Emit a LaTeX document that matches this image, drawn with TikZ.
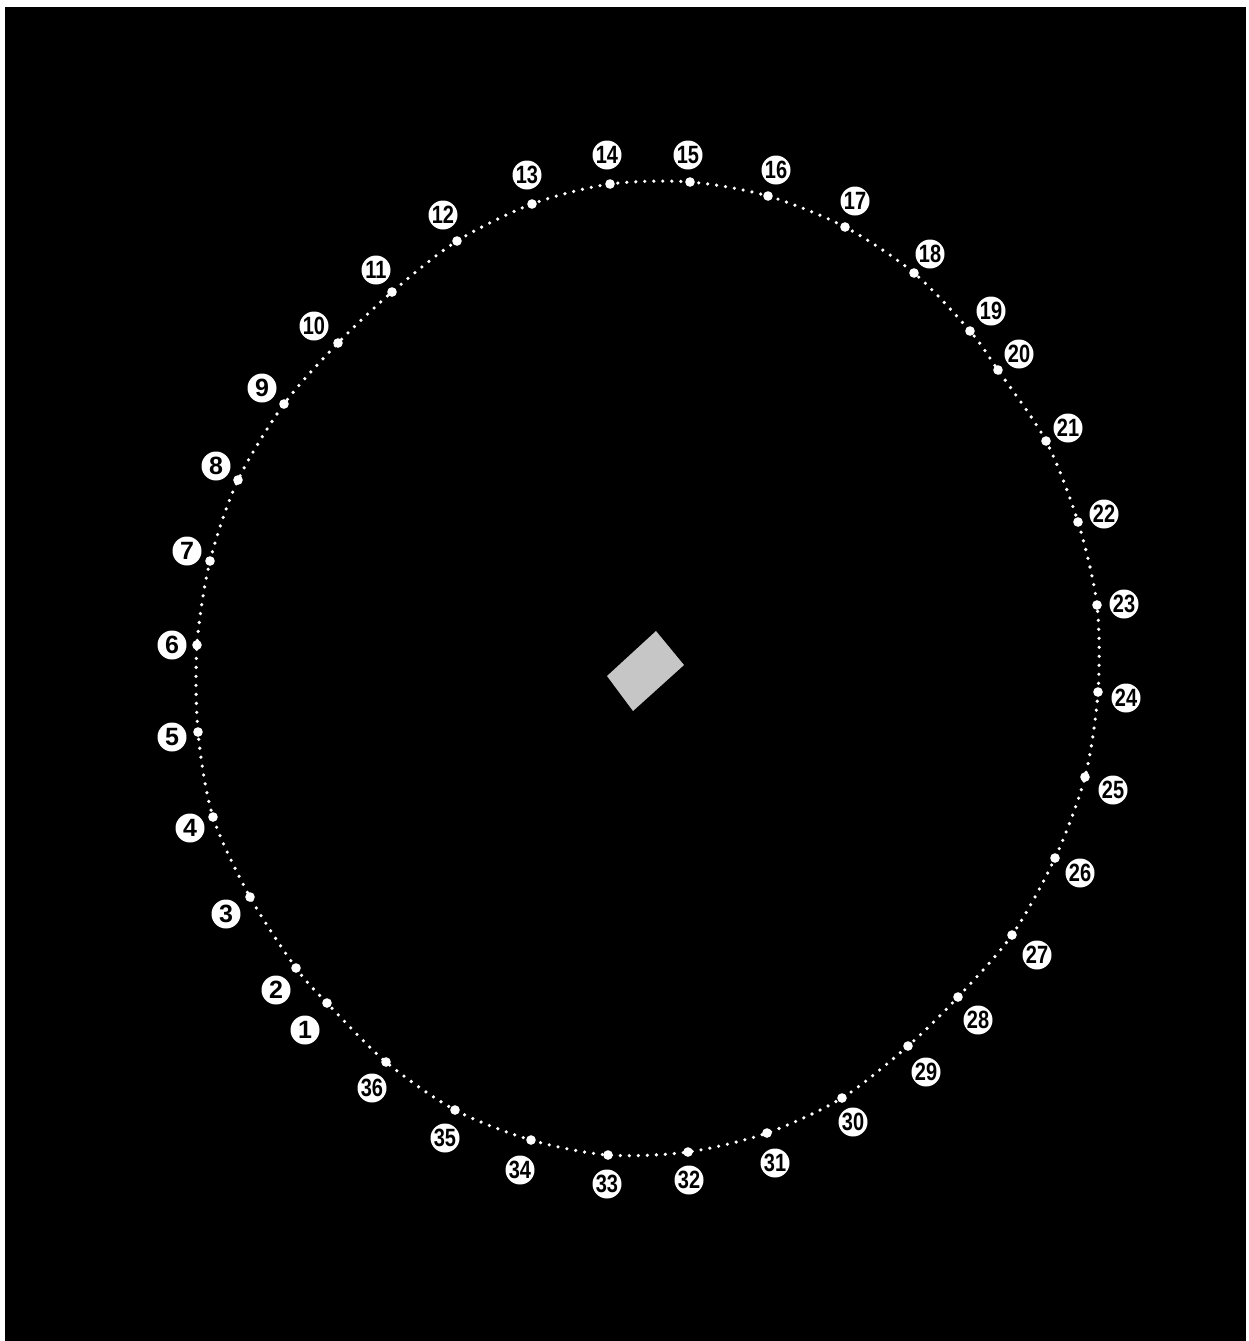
\documentclass[tikz,border=0pt]{standalone}
\usepackage{fontspec}
\setmainfont{Liberation Sans}
\begin{document}
\begin{tikzpicture}[x=0.5pt,y=-0.5pt,
  bigdot/.style={circle,fill=white,draw=none,inner sep=0pt,minimum size=4.8pt},
  numlabel/.style={circle,fill=white,draw=none,inner sep=0pt,minimum size=14.5pt,
    font=\fontsize{12.5}{12.5}\selectfont\bfseries,text=black},
  dotline/.style={draw=white,line width=1.8pt,line cap=round,dash pattern=on 0pt off 4.5pt},
  plate/.style={fill=gray!45!white,draw=none}]
\useasboundingbox (0,0) rectangle (1249,1341);
\fill[white] (0,0) rectangle (1249,1341);
\fill[black] (5,7) rectangle (1246,1341);
\foreach \i/\dx/\dy/\lx/\ly in {
 1/327/1003/305/1030, 2/296/968/276/990, 3/250/897/226/914, 4/213/817/190/828,
 5/198/732/172/737, 6/197/645/172/645, 7/210/561/187/551, 8/238/480/216/466,
 9/284/404/262/388, 10/338/343/314/326, 11/392/292/376/270, 12/457/241/443/215,
 13/532/204/527/175, 14/610/184/607/155, 15/690/182/688/155, 16/768/196/776/170,
 17/845/227/855/201, 18/914/273/930/254, 19/970/331/991/311, 20/998/370/1019/354,
 21/1046/441/1068/428, 22/1078/522/1104/514, 23/1097/605/1124/604, 24/1098/692/1126/698,
 25/1085/777/1113/790, 26/1055/858/1080/873, 27/1012/935/1037/955, 28/958/997/978/1020,
 29/908/1046/926/1072, 30/842/1098/853/1122, 31/767/1133/775/1163, 32/688/1152/689/1180,
 33/608/1155/607/1184, 34/531/1140/520/1170, 35/455/1110/445/1138, 36/386/1062/372/1088}{
  \coordinate (p\i) at (\dx,\dy);
}
\draw[dotline] plot[smooth cycle,tension=0.5] coordinates {
 (p1) (p2) (p3) (p4) (p5) (p6) (p7) (p8) (p9) (p10) (p11) (p12) (p13) (p14) (p15) (p16) (p17) (p18)
 (p19) (p20) (p21) (p22) (p23) (p24) (p25) (p26) (p27) (p28) (p29) (p30) (p31) (p32) (p33) (p34) (p35) (p36)};
\foreach \i/\dx/\dy/\lx/\ly in {
 1/327/1003/305/1030, 2/296/968/276/990, 3/250/897/226/914, 4/213/817/190/828,
 5/198/732/172/737, 6/197/645/172/645, 7/210/561/187/551, 8/238/480/216/466,
 9/284/404/262/388}{
  \node[bigdot] (d\i) at (p\i) {};
  \node[numlabel] (l\i) at (\lx,\ly) {\i};
}
\foreach \i/\dx/\dy/\lx/\ly in {
 10/338/343/314/326, 11/392/292/376/270, 12/457/241/443/215,
 13/532/204/527/175, 14/610/184/607/155, 15/690/182/688/155, 16/768/196/776/170,
 17/845/227/855/201, 18/914/273/930/254, 19/970/331/991/311, 20/998/370/1019/354,
 21/1046/441/1068/428, 22/1078/522/1104/514, 23/1097/605/1124/604, 24/1098/692/1126/698,
 25/1085/777/1113/790, 26/1055/858/1080/873, 27/1012/935/1037/955, 28/958/997/978/1020,
 29/908/1046/926/1072, 30/842/1098/853/1122, 31/767/1133/775/1163, 32/688/1152/689/1180,
 33/608/1155/607/1184, 34/531/1140/520/1170, 35/455/1110/445/1138, 36/386/1062/372/1088}{
  \node[bigdot] (d\i) at (p\i) {};
  \node[numlabel] (l\i) at (\lx,\ly) {\scalebox{0.8}[1]{\i}};
}
\fill[plate] (656,631) -- (684,665) -- (633,711) -- (607,676) -- cycle;
\end{tikzpicture}
\end{document}
